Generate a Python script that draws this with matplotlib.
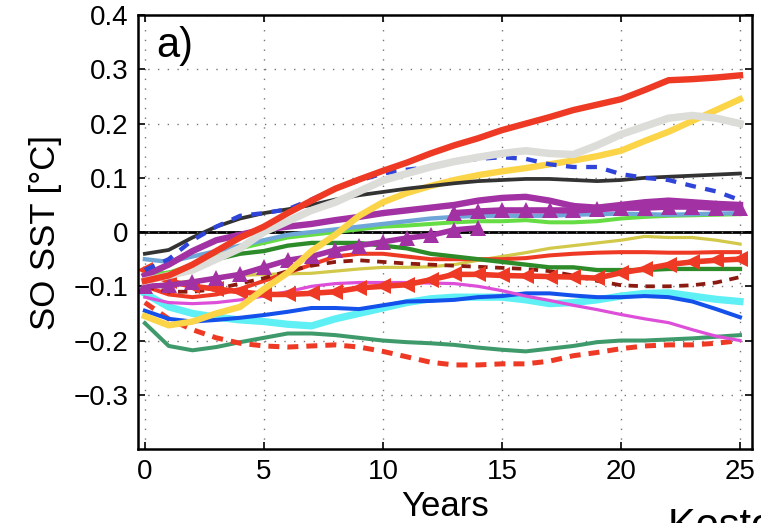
import numpy as np
import matplotlib
matplotlib.use("Agg")
import matplotlib.pyplot as plt

plt.rcParams['font.family'] = ['Liberation Sans', 'DejaVu Sans']

years = np.arange(0, 26)

# SO SST anomalies per model run [degC], one value per year 0..25
red_top = [-0.09, -0.08, -0.06, -0.035, -0.01, 0.01, 0.035, 0.058, 0.08, 0.097, 0.113, 0.128, 0.145, 0.16, 0.173, 0.188,
           0.2, 0.212, 0.225, 0.235, 0.245, 0.262, 0.28, 0.282, 0.285, 0.289]
grey = [-0.09, -0.08, -0.07, -0.05, -0.03, 0.0, 0.02, 0.04, 0.055, 0.075, 0.095, 0.108, 0.12, 0.13, 0.138, 0.145,
        0.15, 0.145, 0.143, 0.16, 0.18, 0.195, 0.21, 0.215, 0.21, 0.2]
gold = [-0.155, -0.172, -0.165, -0.15, -0.138, -0.105, -0.075, -0.035, -0.005, 0.03, 0.055, 0.072, 0.085, 0.096, 0.105,
        0.112, 0.118, 0.125, 0.132, 0.14, 0.15, 0.168, 0.185, 0.205, 0.225, 0.245]
black_run = [-0.04, -0.033, -0.01, 0.01, 0.025, 0.035, 0.042, 0.05, 0.06, 0.068, 0.074, 0.08, 0.085, 0.09, 0.094,
             0.096, 0.098, 0.098, 0.096, 0.094, 0.096, 0.1, 0.102, 0.104, 0.106, 0.108]
blue_dash = [-0.07, -0.05, -0.015, 0.01, 0.03, 0.035, 0.042, 0.06, 0.08, 0.095, 0.108, 0.115, 0.12, 0.13, 0.135, 0.138,
             0.135, 0.125, 0.12, 0.12, 0.107, 0.1, 0.096, 0.085, 0.075, 0.059]
purple = [-0.08, -0.06, -0.035, -0.015, -0.005, 0.005, 0.01, 0.015, 0.022, 0.028, 0.035, 0.04, 0.045, 0.05, 0.058,
          0.063, 0.065, 0.058, 0.048, 0.045, 0.05, 0.055, 0.058, 0.055, 0.052, 0.05]
purple_tri_a = [-0.1, -0.098, -0.092, -0.085, -0.078, -0.065, -0.052, -0.045, -0.033, -0.025, -0.018, -0.011, -0.006,
                0.004, 0.008]
purple_tri_b = [0.035, 0.038, 0.04, 0.04, 0.04, 0.04, 0.042, 0.045, 0.045, 0.047, 0.047, 0.045, 0.045]
steel = [-0.05, -0.055, -0.045, -0.035, -0.025, -0.015, -0.005, 0.0, 0.005, 0.01, 0.015, 0.02, 0.025, 0.028, 0.03,
         0.03, 0.03, 0.03, 0.032, 0.033, 0.034, 0.033, 0.032, 0.033, 0.034, 0.035]
lime = [-0.078, -0.075, -0.06, -0.045, -0.03, -0.02, -0.01, -0.005, 0.0, 0.005, 0.01, 0.012, 0.015, 0.018, 0.02, 0.02,
        0.022, 0.018, 0.018, 0.02, 0.025, 0.028, 0.03, 0.031, 0.032, 0.033]
dark_green = [-0.08, -0.075, -0.065, -0.05, -0.04, -0.035, -0.025, -0.02, -0.02, -0.02, -0.025, -0.03, -0.04, -0.045,
              -0.05, -0.055, -0.06, -0.065, -0.065, -0.07, -0.07, -0.07, -0.068, -0.068, -0.068, -0.068]
olive = [-0.1, -0.095, -0.09, -0.085, -0.08, -0.078, -0.077, -0.076, -0.072, -0.068, -0.065, -0.065, -0.064, -0.06,
         -0.052, -0.045, -0.038, -0.03, -0.025, -0.02, -0.015, -0.008, -0.01, -0.01, -0.015, -0.022]
red_mid = [-0.1, -0.115, -0.12, -0.115, -0.105, -0.09, -0.075, -0.06, -0.045, -0.04, -0.04, -0.045, -0.05, -0.05, -0.05,
           -0.05, -0.048, -0.043, -0.04, -0.038, -0.037, -0.037, -0.038, -0.038, -0.037, -0.037]
darkred_dash = [-0.1, -0.11, -0.11, -0.105, -0.095, -0.085, -0.072, -0.062, -0.055, -0.052, -0.055, -0.058, -0.06,
                -0.062, -0.064, -0.066, -0.068, -0.072, -0.08, -0.09, -0.098, -0.1, -0.1, -0.098, -0.093, -0.083]
red_tri = [-0.07, -0.09, -0.1, -0.105, -0.11, -0.115, -0.115, -0.113, -0.11, -0.103, -0.1, -0.097, -0.088, -0.078,
           -0.078, -0.08, -0.081, -0.082, -0.083, -0.085, -0.075, -0.068, -0.06, -0.055, -0.052, -0.05]
magenta = [-0.12, -0.13, -0.132, -0.13, -0.125, -0.118, -0.11, -0.1, -0.095, -0.093, -0.093, -0.093, -0.094, -0.095,
           -0.1, -0.108, -0.118, -0.126, -0.135, -0.143, -0.152, -0.16, -0.167, -0.18, -0.192, -0.2]
blue = [-0.145, -0.16, -0.165, -0.162, -0.158, -0.153, -0.147, -0.14, -0.14, -0.142, -0.135, -0.128, -0.127, -0.125,
        -0.12, -0.118, -0.113, -0.113, -0.117, -0.12, -0.12, -0.118, -0.12, -0.128, -0.142, -0.157]
cyan = [-0.113, -0.138, -0.15, -0.157, -0.162, -0.165, -0.17, -0.173, -0.16, -0.15, -0.14, -0.13, -0.123, -0.12, -0.12,
        -0.12, -0.125, -0.132, -0.13, -0.125, -0.118, -0.113, -0.112, -0.118, -0.124, -0.128]
sea_green = [-0.168, -0.21, -0.218, -0.212, -0.203, -0.195, -0.187, -0.187, -0.19, -0.195, -0.2, -0.203, -0.205, -0.208,
             -0.213, -0.217, -0.22, -0.215, -0.21, -0.203, -0.2, -0.2, -0.198, -0.196, -0.193, -0.19]
red_dash = [-0.13, -0.16, -0.18, -0.195, -0.205, -0.21, -0.212, -0.21, -0.208, -0.212, -0.22, -0.23, -0.24, -0.245,
            -0.245, -0.243, -0.243, -0.238, -0.228, -0.222, -0.215, -0.21, -0.208, -0.208, -0.205, -0.2]

fig = plt.figure(figsize=(7.61, 5.23), dpi=100)
ax = fig.add_axes([0.181, 0.1415, 0.807, 0.8295])

ax.axhline(0, color='black', lw=2.0, zorder=1)

thin = 2.3
thick = 4.6
ax.plot(years, sea_green, color='#3f9a6b', lw=thin + 0.6)
ax.plot(years, red_dash, color='#ee3a24', lw=thick - 1, ls=(0, (2.2, 1.6)))
ax.plot(years, cyan, color='#5ef0f4', lw=thick + 0.6)
ax.plot(years, blue, color='#1450ea', lw=thin + 0.6)
ax.plot(years, magenta, color='#dd4fd8', lw=thin)
ax.plot(years, olive, color='#d2c84a', lw=thin)
ax.plot(years, red_mid, color='#ee3a24', lw=thin + 0.6)
ax.plot(years, darkred_dash, color='#8b1a10', lw=thin + 0.4, ls=(0, (2.5, 2.0)))
ax.plot(years, dark_green, color='#2e8b2a', lw=thin + 0.8)
ax.plot(years, red_tri, color='#ee3a24', lw=thick - 0.6, marker='<', ms=11, mew=0)
ax.plot(years, lime, color='#66dd44', lw=thin + 0.6)
ax.plot(years, steel, color='#6fa6d8', lw=thin + 0.8)
ax.plot(years[:len(purple_tri_a)], purple_tri_a, color='#a231a3', lw=thick - 0.6, marker='^', ms=11, mew=0)
ax.plot(years[13:], purple_tri_b, color='#a231a3', lw=thick, marker='^', ms=11, mew=0)
ax.plot(years, purple, color='#a231a3', lw=thick)
ax.plot(years, gold, color='#fbd448', lw=thick)
ax.plot(years, black_run, color='#333333', lw=thin + 0.4)
ax.plot(years, blue_dash, color='#2f44d8', lw=thin + 0.8, ls=(0, (2.5, 2.2)))
ax.plot(years, grey, color='#dcdcd8', lw=thick + 0.8)
ax.plot(years, red_top, color='#ee3a24', lw=thick)

ax.set_xlim(-0.3, 25.5)
ax.set_ylim(-0.4, 0.4)
ax.set_xticks([0, 5, 10, 15, 20, 25])
ax.set_yticks([-0.3, -0.2, -0.1, 0, 0.1, 0.2, 0.3, 0.4])
ax.set_yticklabels(['\u22120.3', '\u22120.2', '\u22120.1', '0', '0.1', '0.2', '0.3', '0.4'])
ax.grid(True, color='#777777', ls=(0, (1, 6)), lw=1.0)
ax.tick_params(direction='in', top=True, right=True, length=5, width=1.2, labelsize=20, pad=7)
for s in ax.spines.values():
    s.set_linewidth(1.8)

ax.set_xlabel('Years', fontsize=25, labelpad=4)
ax.set_ylabel('SO SST [\u00b0C]', fontsize=25, labelpad=8)
ax.text(0.03, 0.975, 'a)', transform=ax.transAxes, fontsize=30, va='top', ha='left')

fig.text(668 / 761, -0.045, 'Kostov et al.', fontsize=30, ha='left', va='bottom')

fig.savefig('out.png', dpi=100)
